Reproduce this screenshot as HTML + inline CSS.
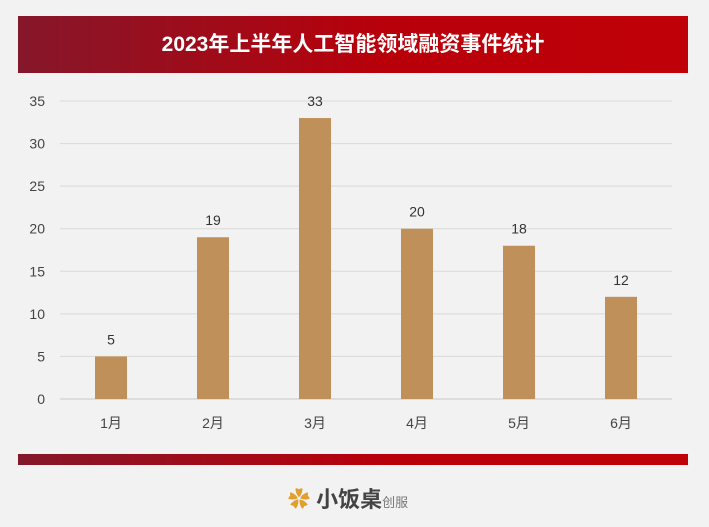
<!DOCTYPE html>
<html><head><meta charset="utf-8"><style>
body{margin:0;width:709px;height:527px;background:#f2f2f2;font-family:"Liberation Sans","Noto Sans CJK SC",sans-serif;overflow:hidden;position:relative}
#title{position:absolute;left:18px;top:16px;width:670px;height:57px;background:linear-gradient(90deg,#85172a,#b8000a 55%,#c00008);color:#fff;font-size:21px;font-weight:bold;text-align:center;line-height:57px}
#bar2{position:absolute;left:18px;top:454px;width:670px;height:11px;background:linear-gradient(90deg,#85172a,#b8000a 55%,#c00008)}
#logo{position:absolute;left:288px;top:482px;font-size:22px;font-weight:bold;color:#444}
#logo small{font-size:13px;font-weight:normal;color:#777}
</style></head><body>
<div id="title">2023年上半年人工智能领域融资事件统计</div>
<svg id="chart" width="709" height="527" style="position:absolute;left:0;top:0"></svg>
<div id="bar2"></div>
<div id="logo"><span style="color:#e0a030">✿</span> 小饭桌<small>创服</small></div>
<script>
const categories=["1月","2月","3月","4月","5月","6月"];
const values=[5,19,33,20,18,12];
const ticks=[0,5,10,15,20,25,30,35];
const svg=document.getElementById('chart');
const NS='http://www.w3.org/2000/svg';
const x0=60,x1=672,y0=399,yTop=101,maxV=35;
const y=v=>y0-(v/maxV)*(y0-yTop);
const band=(x1-x0)/categories.length;
const xc=i=>x0+band*(i+0.5);
function mk(t,a){const e=document.createElementNS(NS,t);for(const k in a)e.setAttribute(k,a[k]);svg.appendChild(e);return e;}
ticks.forEach(t=>{
 const l=mk('line',{x1:x0,x2:x1,y1:y(t),y2:y(t),stroke:t===0?'#c8c8c8':'#d9d9d9','stroke-width':1});
 
 
 const tx=mk('text',{x:45,y:y(t)+5,'text-anchor':'end','font-size':14,fill:'#444'});
 tx.textContent=t;
 
 
});
categories.forEach((c,i)=>{
 const r=mk('rect',{x:xc(i)-16,y:y(values[i]),width:32,height:y0-y(values[i]),fill:'#c0905a'});
 
 
 const v=mk('text',{x:xc(i),y:y(values[i])-12,'text-anchor':'middle','font-size':14,fill:'#333'});
 v.textContent=values[i];
 
 
 const t=mk('text',{x:xc(i),y:428,'text-anchor':'middle','font-size':14,fill:'#444'});
 t.textContent=c;
 
 
});
</script>
</body></html>
